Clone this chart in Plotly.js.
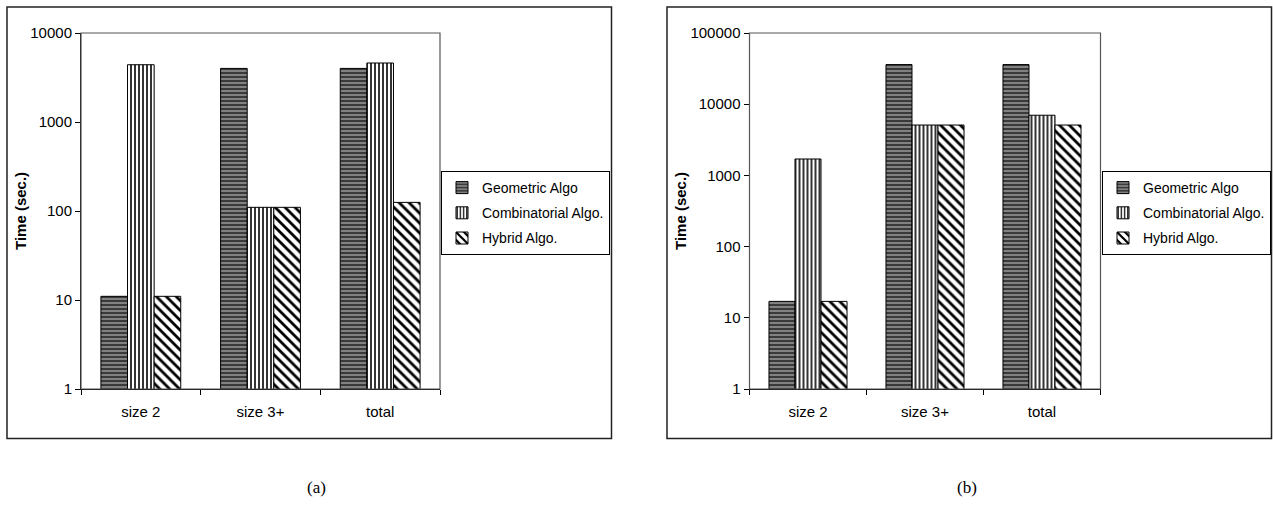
<!DOCTYPE html>
<html>
<head>
<meta charset="utf-8">
<script src="https://cdn.plot.ly/plotly-3.0.1.min.js"></script>
<style>html,body{margin:0;padding:0;background:#fff;}#chart{width:1273px;height:512px;}</style>
</head>
<body>
<div id="chart"></div>
<script>
// Data
var categories = ['size 2', 'size 3+', 'total'];
var seriesNames = ['Geometric Algo', 'Combinatorial Algo.', 'Hybrid Algo.'];
var geoA = [11, 4000, 4000];
var combA = [4400, 110, 4600];
var hybA = [11, 110, 125];
var geoB = [17, 36000, 36000];
var combB = [1700, 5100, 7000];
var hybB = [17, 5100, 5100];
var tickValsA = [1, 10, 100, 1000, 10000];
var tickTextA = ['1', '10', '100', '1000', '10000'];
var tickValsB = [1, 10, 100, 1000, 10000, 100000];
var tickTextB = ['1', '10', '100', '1000', '10000', '100000'];
var yTitle = 'Time (sec.)';
var captions = ['(a)', '(b)'];

var W = 1273, H = 512;
function px(v) { return v / W; }
function py(v) { return 1 - v / H; }

var patterns = [
  {shape: '-', bgcolor: '#3a3a3a', fgcolor: '#a0a0a0', size: 4, solidity: 0.35},
  {shape: '|', bgcolor: '#ffffff', fgcolor: '#000000', size: 4, solidity: 0.4},
  {shape: '\\', bgcolor: '#ffffff', fgcolor: '#000000', size: 7, solidity: 0.4}
];

function mk(vals, idx, xa, ya, leg) {
  return {
    type: 'bar', x: categories, y: vals, name: seriesNames[idx],
    xaxis: xa, yaxis: ya, legend: leg, legendgroup: leg + idx,
    marker: {color: patterns[idx].bgcolor, line: {color: '#000', width: 1}, pattern: patterns[idx]},
    hoverinfo: 'none'
  };
}

var data = [
  mk(geoA, 0, 'x', 'y', 'legend'), mk(combA, 1, 'x', 'y', 'legend'), mk(hybA, 2, 'x', 'y', 'legend'),
  mk(geoB, 0, 'x2', 'y2', 'legend2'), mk(combB, 1, 'x2', 'y2', 'legend2'), mk(hybB, 2, 'x2', 'y2', 'legend2')
];

var font = {family: 'Arial, "Liberation Sans", sans-serif', size: 15, color: '#000'};
var xbase = {
  type: 'category', showline: true, linecolor: '#000', linewidth: 1,
  ticks: 'outside', ticklen: 5, tickcolor: '#000', tickson: 'boundaries',
  showgrid: false, zeroline: false, tickfont: font, ticklabelstandoff: 9, fixedrange: true
};
var ybase = {
  type: 'log', showline: true, linecolor: '#000', linewidth: 1,
  ticks: 'outside', ticklen: 5, tickcolor: '#000', showgrid: false, zeroline: false,
  tickfont: font, fixedrange: true
};

var domY = [py(389), py(33)];
var legFont = {family: font.family, size: 14, color: '#000'};
var capFont = {family: '"Times New Roman", "Liberation Serif", serif', size: 17, color: '#000'};
var titleFont = {family: font.family, size: 15, color: '#000', weight: 'bold'};
var layout = {
  width: W, height: H, margin: {l: 0, r: 0, t: 0, b: 0},
  paper_bgcolor: '#fff', plot_bgcolor: '#fff',
  font: font, barmode: 'group', bargap: 0.333, bargroupgap: 0,
  xaxis: Object.assign({}, xbase, {domain: [px(81), px(440)], anchor: 'y'}),
  yaxis: Object.assign({}, ybase, {domain: domY, anchor: 'x', range: [0, 4], tickvals: tickValsA, ticktext: tickTextA}),
  xaxis2: Object.assign({}, xbase, {domain: [px(749.5), px(1100.5)], anchor: 'y2'}),
  yaxis2: Object.assign({}, ybase, {domain: domY, anchor: 'x2', range: [0, 5], tickvals: tickValsB, ticktext: tickTextB}),
  legend: {x: px(441), y: py(171), xanchor: 'left', yanchor: 'top', bgcolor: '#fff', bordercolor: '#000', borderwidth: 1,
           font: legFont, tracegroupgap: 4, traceorder: 'grouped'},
  legend2: {x: px(1102), y: py(171), xanchor: 'left', yanchor: 'top', bgcolor: '#fff', bordercolor: '#000', borderwidth: 1,
           font: legFont, tracegroupgap: 4, traceorder: 'grouped'},
  shapes: [
    {type: 'rect', xref: 'paper', yref: 'paper', x0: px(7), x1: px(611.5), y0: py(438.5), y1: py(7), line: {color: '#222', width: 1.5}, layer: 'below'},
    {type: 'rect', xref: 'paper', yref: 'paper', x0: px(667), x1: px(1271.5), y0: py(438.5), y1: py(7), line: {color: '#222', width: 1.5}, layer: 'below'},
    {type: 'rect', xref: 'x domain', yref: 'y domain', x0: 0, x1: 1, y0: 0, y1: 1, line: {color: '#555', width: 1.2}},
    {type: 'rect', xref: 'x2 domain', yref: 'y2 domain', x0: 0, x1: 1, y0: 0, y1: 1, line: {color: '#555', width: 1.2}}
  ],
  annotations: [
    {text: yTitle, xref: 'paper', yref: 'paper', x: px(20), y: py(211), xanchor: 'center', yanchor: 'middle', textangle: -90, showarrow: false, font: titleFont},
    {text: yTitle, xref: 'paper', yref: 'paper', x: px(680), y: py(211), xanchor: 'center', yanchor: 'middle', textangle: -90, showarrow: false, font: titleFont},
    {text: captions[0], xref: 'paper', yref: 'paper', x: px(316), y: py(499), xanchor: 'center', showarrow: false, font: capFont},
    {text: captions[1], xref: 'paper', yref: 'paper', x: px(967), y: py(499), xanchor: 'center', showarrow: false, font: capFont}
  ]
};

Plotly.newPlot('chart', data, layout, {displayModeBar: false, staticPlot: true});
</script>
</body>
</html>
